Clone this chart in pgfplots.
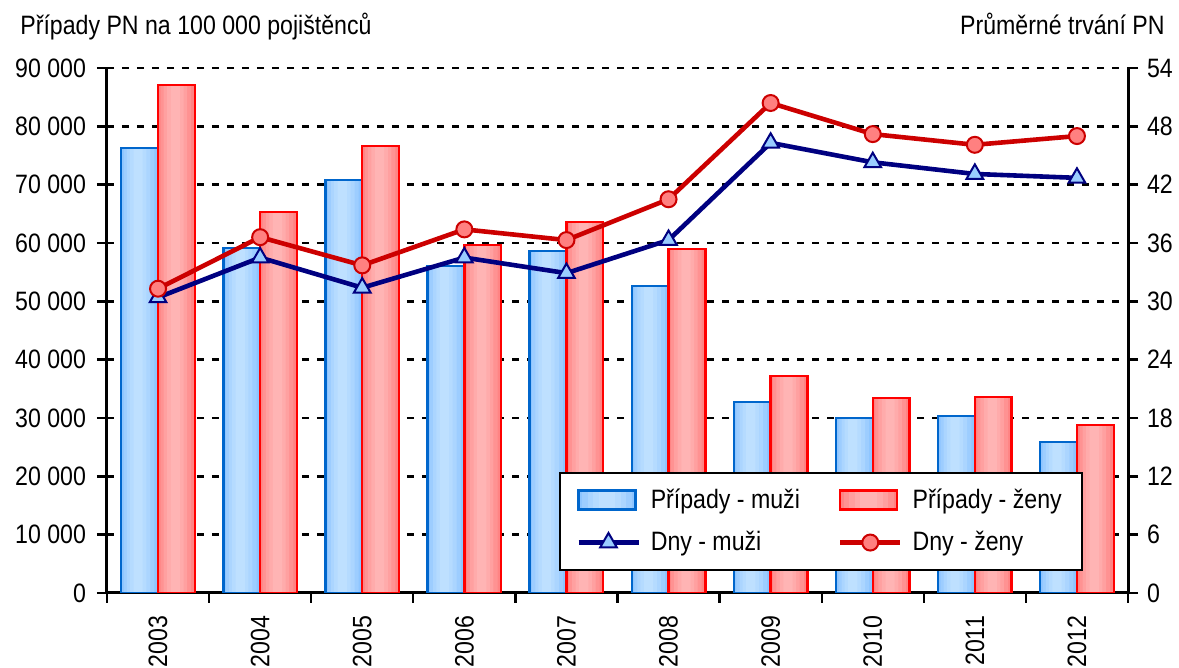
\documentclass[border=0pt]{standalone}
\usepackage{fontspec}
\setmainfont{Liberation Sans}[FakeStretch=0.87]
\usepackage{pgfplots}
\usepackage{pgfplotstable}
\pgfplotsset{compat=1.18}
\pgfplotsset{/pgf/number format/assume math mode=true}
\pgfplotsset{linelegend/.style={legend image code/.code={\draw[mark repeat=2,mark phase=2,##1] plot coordinates {(0pt,0pt) (15pt,0pt) (30pt,0pt)};}}}
\definecolor{barblue}{HTML}{0066CC}
\definecolor{blueA}{HTML}{8EC5FF}
\definecolor{blueB}{HTML}{9DCDFF}
\definecolor{blueC}{HTML}{ABD5FF}
\definecolor{blueD}{HTML}{B5DBFF}
\definecolor{blueE}{HTML}{BEE0FF}
\definecolor{barred}{HTML}{FF0000}
\definecolor{redA}{HTML}{FF8484}
\definecolor{redB}{HTML}{FF9292}
\definecolor{redC}{HTML}{FFA0A0}
\definecolor{redD}{HTML}{FFABAB}
\definecolor{redE}{HTML}{FFB4B4}
\definecolor{navyline}{HTML}{000080}
\definecolor{trifill}{HTML}{99CCFF}
\definecolor{redline}{HTML}{CC0000}
\definecolor{circfill}{HTML}{FF8080}
\newcommand{\fs}{\fontsize{13.3pt}{16pt}\selectfont}

\pgfplotstableread{
x muzi zeny dnym dnyz
0 76300 87100 30.4 31.3
1 59100 65300 34.5 36.6
2 70800 76600 31.4 33.7
3 56100 59700 34.5 37.4
4 58600 63600 32.9 36.3
5 52600 59000 36.3 40.5
6 32700 37200 46.3 50.4
7 30000 33400 44.3 47.2
8 30300 33600 43.1 46.1
9 25900 28800 42.7 47.0
}\data

\newcommand{\legbar}[6]{%
  \fill[#1] (0pt,-4.75pt) rectangle (28.5pt,4.75pt);
  \fill[#2] (2.4pt,-4.75pt) rectangle (26.1pt,4.75pt);
  \fill[#3] (5.2pt,-4.75pt) rectangle (23.3pt,4.75pt);
  \fill[#4] (7.9pt,-4.75pt) rectangle (20.6pt,4.75pt);
  \fill[#5] (10.7pt,-4.75pt) rectangle (17.8pt,4.75pt);
  \draw[draw=#6, line width=1.2pt] (0pt,-4.75pt) rectangle (28.5pt,4.75pt);}

\begin{document}
\begin{tikzpicture}
\useasboundingbox (-53.5pt,-37.5pt) rectangle (536pt,296.5pt);
\begin{axis}[
  at={(0,0)}, anchor=south west,
  scale only axis, width=510.5pt, height=262.5pt,
  xmin=-0.5, xmax=9.5, ymin=0, ymax=90000,
  scaled y ticks=false,
  axis x line*=bottom, axis y line*=left,
  axis line style={line width=1.5pt, black},
  xtick={0,1,2,3,4,5,6,7,8,9},
  xticklabels={2003,2004,2005,2006,2007,2008,2009,2010,2011,2012},
  major x tick style={draw=none},
  minor xtick={-0.5,0.5,...,9.5},
  minor tick length=5pt,
  major tick length=5pt,
  tick align=outside,
  tick style={black, line width=1.2pt},
  xticklabel style={rotate=90, anchor=east, font=\fs},
  xticklabel shift=3pt,
  ytick={0,10000,...,90000},
  yticklabels={0,10 000,20 000,30 000,40 000,50 000,60 000,70 000,80 000,90 000},
  yticklabel style={font=\fs, xshift=-2pt},
  ymajorgrids,
  grid style={black, line width=1.2pt, dash pattern=on 3.5pt off 4pt},
  every axis plot/.append style={ybar, draw=none},
]
% blue bars: layered fills for the horizontal gradient, then the border
\addplot[bar width=0.36, bar shift=-0.18, fill=blueA] table[x=x, y=muzi] {\data};
\addplot[bar width=0.30, bar shift=-0.185, fill=blueB] table[x=x, y=muzi] {\data};
\addplot[bar width=0.23, bar shift=-0.19, fill=blueC] table[x=x, y=muzi] {\data};
\addplot[bar width=0.16, bar shift=-0.195, fill=blueD] table[x=x, y=muzi] {\data};
\addplot[bar width=0.09, bar shift=-0.195, fill=blueE] table[x=x, y=muzi] {\data};
\addplot[bar width=0.36, bar shift=-0.18, draw=barblue, line width=1.2pt, fill=none] table[x=x, y=muzi] {\data};
% red bars
\addplot[bar width=0.36, bar shift=0.18, fill=redA] table[x=x, y=zeny] {\data};
\addplot[bar width=0.30, bar shift=0.175, fill=redB] table[x=x, y=zeny] {\data};
\addplot[bar width=0.23, bar shift=0.17, fill=redC] table[x=x, y=zeny] {\data};
\addplot[bar width=0.16, bar shift=0.17, fill=redD] table[x=x, y=zeny] {\data};
\addplot[bar width=0.09, bar shift=0.17, fill=redE] table[x=x, y=zeny] {\data};
\addplot[bar width=0.36, bar shift=0.18, draw=barred, line width=1.2pt, fill=none] table[x=x, y=zeny] {\data};
\end{axis}
\begin{axis}[
  at={(0,0)}, anchor=south west,
  scale only axis, width=510.5pt, height=262.5pt,
  xmin=-0.5, xmax=9.5, ymin=0, ymax=54,
  axis x line=none, axis y line*=right,
  axis line style={line width=1.5pt, black},
  ytick={0,6,...,54},
  major tick length=5pt,
  tick align=outside,
  tick style={black, line width=1.2pt},
  yticklabel style={font=\fs, xshift=1pt},
  legend columns=2,
  legend cell align=left,
  legend style={at={(0.4427,0.042)}, anchor=south west, draw=black, line width=1.2pt,
    font=\fs, inner xsep=8pt, inner ysep=6pt, row sep=6pt,
    /tikz/every odd column/.append style={column sep=3pt},
    /tikz/every even column/.append style={column sep=17pt}},
]
\addlegendimage{legend image code/.code={\legbar{blueA}{blueB}{blueC}{blueD}{blueE}{barblue}}}
\addlegendentry{Případy - muži}
\addlegendimage{legend image code/.code={\legbar{redA}{redB}{redC}{redD}{redE}{barred}}}
\addlegendentry{Případy - ženy}
\addplot[navyline, line width=2.3pt, mark=triangle*, mark size=4.8pt,
  mark options={fill=trifill, draw=navyline, line width=1pt}, linelegend]
  table[x=x, y=dnym] {\data};
\addlegendentry{Dny - muži}
\addplot[redline, line width=2.3pt, mark=*, mark size=4pt,
  mark options={fill=circfill, draw=redline, line width=1pt}, linelegend]
  table[x=x, y=dnyz] {\data};
\addlegendentry{Dny - ženy}
\end{axis}
\node[anchor=base west, font=\fs, inner sep=0pt] at (-43.5pt,279.3pt) {Případy PN na 100 000 pojištěnců};
\node[anchor=base east, font=\fs, inner sep=0pt] at (529pt,279.3pt) {Průměrné trvání PN};
\end{tikzpicture}
\end{document}
